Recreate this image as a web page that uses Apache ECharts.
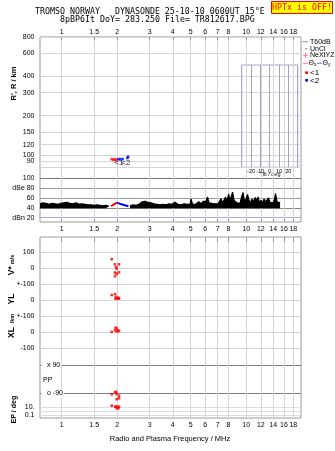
<!DOCTYPE html>
<html>
<head>
<meta charset="utf-8">
<script src="https://cdn.jsdelivr.net/npm/echarts@6/dist/echarts.min.js"></script>
<style>
html, body { margin: 0; padding: 0; background: #fff; }
#chart { width: 335px; height: 451px; }
</style>
</head>
<body>
<div id="chart"></div>
<script>
// ---- axis ticks ----
const freqTicks = [1, 1.5, 2, 3, 4, 5, 6, 7, 8, 10, 12, 14, 16, 18];
const rangeTicks = [80, 90, 100, 120, 150, 200, 300, 400, 600, 800];
const dbTicks = [20, 40, 60, 80, 100];
const tiltTicks = [-20, -10, 0, 10, 20];
const driftTicks = [-100, 0, 100];
const ppTicks = [-90, 90];
const epTicks = [0.1, 1, 10];

// ---- echo traces: [frequency MHz, value] ----
const echo1Range = [[1.866, 93], [1.91, 92], [1.95, 93], [1.98, 91]];
const echo2Range = [[2.03, 93], [2.08, 93], [2.14, 93], [2.27, 95], [2.29, 97]];
const echo1Amp = [[1.85, 43], [1.92, 47], [1.99, 50.5]];
const echo2Amp = [[1.99, 50.5], [2.03, 50.5], [2.11, 47], [2.20, 45], [2.30, 43]];
const echoTags = [[2.04, 86.8, '<1'], [2.23, 86.8, '<2']];

// ---- receiver noise level ----
const noiseFreq = [
  0.763, 0.792, 0.822, 0.853, 0.886, 0.920, 0.955, 0.991, 1.029, 1.068, 1.109, 1.151,
  1.195, 1.241, 1.288, 1.338, 1.388, 1.441, 1.497, 1.554, 1.613, 1.674, 1.739, 1.804,
  2.0,
  2.346, 2.435, 2.527, 2.624, 2.724, 2.828, 2.936, 3.048, 3.164, 3.285, 3.410, 3.540,
  3.675, 3.815, 3.961, 4.112, 4.269, 4.431, 4.600, 4.776,
  4.960, 5.022, 5.117, 5.214, 5.311, 5.411, 5.512, 5.617, 5.723, 5.832, 5.942, 6.055,
  6.169, 6.286, 6.405, 6.525, 6.650, 6.775, 6.903, 7.034, 7.167, 7.303, 7.441, 7.582,
  7.725, 7.872, 8.020, 8.172, 8.327, 8.430, 8.589, 8.750, 8.917, 9.085, 9.256, 9.430,
  9.609, 9.790, 9.975, 10.16, 10.36, 10.55, 10.75, 10.96, 11.16, 11.37, 11.59, 11.81,
  12.03, 12.26, 12.49, 12.72, 12.96, 13.21, 13.46, 13.71, 13.97, 14.23, 14.41, 14.69,
  14.96, 15.25
];
const noiseDb = [
  48, 50, 49, 47, 49, 48, 47, 49, 50, 51, 49, 48,
  50, 47, 48, 47, 46, 46, 45, 46, 45, 44, 45, 43,
  null,
  44, 46, 45, 47, 52, 53, 51, 50, 48, 47, 46, 47,
  46, 48, 47, 51, 47, 46, 48, 47,
  47, 58, 47, 50, 47, 49, 52, 55, 48, 53, 50, 53,
  62, 50, 54, 49, 50, 48, 50, 48, 52, 58, 50, 56,
  62, 52, 68, 55, 65, 72, 55, 58, 50, 53, 49, 62,
  71, 52, 58, 67, 55, 50, 58, 52, 61, 55, 62, 50,
  55, 50, 58, 52, 54, 60, 51, 53, 50, 58, 69, 52,
  55, 50
];

// ---- drift velocity, echo location, polarization, error ----
const vStar = [[1.866, 57], [1.945, 25], [2.045, 25], [1.970, 8], [1.986, -2],
               [1.945, -27], [2.045, -25], [1.986, -34], [1.945, -49]];
const yLoc = [[1.866, 33], [1.945, 38], [1.970, 21], [1.955, 11], [1.990, 11],
              [2.020, 11], [2.045, 11], [2.030, 16]];
const xLoc = [[1.866, 2], [1.960, 29], [1.985, 23], [1.945, 12], [2.020, 12],
              [2.045, 8], [1.990, 5]];
const polar = [[1.866, -98], [1.945, -85], [1.970, -82], [1.986, -96],
               [2.045, -107], [2.045, -124], [1.986, -130]];
const epErr = [[1.866, 21], [1.945, 12], [1.970, 12], [2.000, 12], [2.045, 12],
               [1.986, 4.7], [2.030, 4.7]];

const SANS = 'Liberation Sans, Arial, sans-serif';
const MONO = 'DejaVu Sans Mono, monospace';
const F_MIN = 0.763, F_MAX = 19.8;
const LEFT = 40, WIDTH = 261;
const GRIDC = '#d4d4dc';

const fmtNum = v => String(+(+v).toPrecision(3));

function hiddenFreqAxis(gridIndex) {
  return { type: 'log', gridIndex, min: F_MIN, max: F_MAX, show: false };
}
function labelStyle(extra) {
  return Object.assign({ fontFamily: SANS, fontSize: 7, color: '#000' }, extra);
}

const grids = [
  { left: LEFT, top: 37, width: WIDTH, height: 185, show: true, borderColor: '#999', borderWidth: 1 }, // 0 upper frame
  { left: LEFT, top: 37, width: WIDTH, height: 133 },        // 1 range
  { left: LEFT, top: 178.3, width: WIDTH, height: 43.7 },    // 2 amplitude
  { left: 241.7, top: 65, width: 56, height: 102.3 },        // 3 tilt inset
  { left: LEFT, top: 237, width: WIDTH, height: 181, show: true, borderColor: '#999', borderWidth: 1 }, // 4 lower frame
  { left: LEFT, top: 252.3, width: WIDTH, height: 32 },      // 5 V*
  { left: LEFT, top: 284.3, width: WIDTH, height: 32 },      // 6 YL
  { left: LEFT, top: 316.3, width: WIDTH, height: 32 },      // 7 XL
  { left: LEFT, top: 365, width: WIDTH, height: 35 },        // 8 PP
  { left: LEFT, top: 400, width: WIDTH, height: 18 }         // 9 EP
];

const xAxes = [
  { type: 'log', gridIndex: 0, min: F_MIN, max: F_MAX, position: 'bottom',
    axisLine: { show: false },
    axisTick: { show: true, inside: true, length: 3, customValues: freqTicks, lineStyle: { color: '#999' } },
    axisLabel: labelStyle({ customValues: freqTicks, margin: 4, formatter: fmtNum }),
    splitLine: { show: true, lineStyle: { color: GRIDC, width: 1 } } },
  { type: 'log', gridIndex: 0, min: F_MIN, max: F_MAX, position: 'top',
    axisLine: { show: false },
    axisTick: { show: true, inside: true, length: 3, customValues: freqTicks, lineStyle: { color: '#999' } },
    axisLabel: labelStyle({ customValues: freqTicks, margin: 1, formatter: fmtNum }),
    splitLine: { show: false } },
  hiddenFreqAxis(1),
  hiddenFreqAxis(2),
  { type: 'value', gridIndex: 3, min: -30, max: 30, interval: 10,
    axisLine: { show: false }, axisTick: { show: false },
    axisLabel: labelStyle({ customValues: tiltTicks, fontSize: 5.5, margin: 1.5 }),
    splitLine: { show: true, lineStyle: { color: '#a4a4c0', width: 1 } } },
  { type: 'log', gridIndex: 4, min: F_MIN, max: F_MAX, position: 'bottom',
    axisLine: { show: false }, axisTick: { show: false, customValues: freqTicks },
    axisLabel: labelStyle({ customValues: freqTicks, margin: 4, formatter: fmtNum }),
    splitLine: { show: true, lineStyle: { color: GRIDC, width: 1 } } },
  { type: 'log', gridIndex: 4, min: F_MIN, max: F_MAX, position: 'top',
    axisLine: { show: false },
    axisTick: { show: true, inside: true, length: 5, customValues: freqTicks, lineStyle: { color: '#999' } },
    axisLabel: { show: false }, splitLine: { show: false } },
  hiddenFreqAxis(5), hiddenFreqAxis(6), hiddenFreqAxis(7), hiddenFreqAxis(8), hiddenFreqAxis(9)
];

const yAxes = [
  { type: 'value', gridIndex: 0, min: 0, max: 1, show: false },
  { type: 'log', gridIndex: 1, min: 76.8, max: 800,
    axisLine: { show: false }, axisTick: { show: false, customValues: rangeTicks },
    axisLabel: labelStyle({ customValues: rangeTicks, margin: 5.5, formatter: fmtNum }),
    splitLine: { show: true, lineStyle: { color: GRIDC } } },
  { type: 'value', gridIndex: 2, min: 11, max: 100,
    axisLine: { show: false }, axisTick: { show: false, customValues: dbTicks },
    axisLabel: labelStyle({ customValues: dbTicks, margin: 5.5,
      formatter: v => v === 80 ? 'dBe 80' : v === 20 ? 'dBn 20' : String(v) }),
    splitLine: { show: true, lineStyle: { color: ['#a8a8e0', '#888', '#999', '#999', '#777'] } } },
  { type: 'value', gridIndex: 3, min: 0, max: 1, show: false },
  { type: 'value', gridIndex: 4, min: 0, max: 1, show: false },
  { type: 'value', gridIndex: 5, min: -100, max: 100,
    axisLine: { show: false }, axisTick: { show: false, customValues: driftTicks },
    axisLabel: labelStyle({ customValues: [0, 100], margin: 5.5 }),
    splitLine: { show: true, lineStyle: { color: GRIDC } } },
  { type: 'value', gridIndex: 6, min: -100, max: 100,
    axisLine: { show: false }, axisTick: { show: false, customValues: driftTicks },
    axisLabel: labelStyle({ customValues: [0, 100], margin: 5.5, formatter: v => v === 100 ? '+-100' : String(v) }),
    splitLine: { show: true, lineStyle: { color: GRIDC } } },
  { type: 'value', gridIndex: 7, min: -100, max: 100,
    axisLine: { show: false }, axisTick: { show: false, customValues: driftTicks },
    axisLabel: labelStyle({ customValues: driftTicks, margin: 5.5, formatter: v => v === 100 ? '+-100' : String(v) }),
    splitLine: { show: true, lineStyle: { color: GRIDC } } },
  { type: 'value', gridIndex: 8, min: -135, max: 90,
    axisLine: { show: false }, axisTick: { show: false, customValues: ppTicks },
    axisLabel: labelStyle({ customValues: ppTicks, inside: true, margin: 1.5,
      backgroundColor: '#fff', padding: [1, 1, 1, 5.5],
      formatter: v => v === 90 ? 'x 90' : 'o -90' }),
    splitLine: { show: true, lineStyle: { color: '#808080' } } },
  { type: 'log', gridIndex: 9, min: 0.01778, max: 562,
    axisLine: { show: false }, axisTick: { show: false, customValues: epTicks },
    axisLabel: labelStyle({ customValues: [0.1, 10], margin: 5.5, formatter: v => (+v >= 5 ? '10.' : '0.1') }),
    splitLine: { show: true, lineStyle: { color: '#dcdce4' } } }
];

function dots(name, data, xi, yi, color) {
  return { name, type: 'scatter', xAxisIndex: xi, yAxisIndex: yi, data,
    symbol: 'rect', symbolSize: 2.6, itemStyle: { color }, silent: true, z: 5 };
}

const series = [
  { name: 'noise', type: 'line', xAxisIndex: 3, yAxisIndex: 2,
    data: noiseFreq.map((f, i) => [f, noiseDb[i] == null ? '-' : noiseDb[i]]),
    showSymbol: false, connectNulls: false,
    lineStyle: { color: '#000', width: 1.2 },
    areaStyle: { color: '#000', opacity: 1, origin: 39 }, z: 3 },
  { name: 'amp1', type: 'line', xAxisIndex: 3, yAxisIndex: 2, data: echo1Amp,
    showSymbol: false, lineStyle: { color: '#ff0000', width: 2 }, z: 4 },
  { name: 'amp2', type: 'line', xAxisIndex: 3, yAxisIndex: 2, data: echo2Amp,
    showSymbol: false, lineStyle: { color: '#0000ff', width: 2 }, z: 4 },
  dots('range1', echo1Range, 2, 1, '#ff0000'),
  dots('range2', echo2Range, 2, 1, '#0000ff'),
  { name: 'tags', type: 'scatter', xAxisIndex: 2, yAxisIndex: 1, data: echoTags,
    symbolSize: 0, silent: true, z: 6,
    label: { show: true, position: 'inside', formatter: p => p.data[2],
      fontFamily: SANS, fontSize: 8, color: '#000' } },
  dots('vstar', vStar, 7, 5, '#ff0000'),
  dots('yl', yLoc, 8, 6, '#ff0000'),
  dots('xl', xLoc, 9, 7, '#ff0000'),
  dots('pp', polar, 10, 8, '#ff0000'),
  dots('ep', epErr, 11, 9, '#ff0000')
];

function txt(x, y, text, extra, rotation) {
  return { type: 'text', x, y, rotation: rotation || 0, silent: true,
    style: Object.assign({ text, fontFamily: SANS, fontSize: 7, fill: '#000',
      align: 'left', verticalAlign: 'middle' }, extra) };
}
function seg(x1, y1, x2, y2, color) {
  return { type: 'line', silent: true, shape: { x1, y1, x2, y2 }, style: { stroke: color, lineWidth: 1 } };
}

const graphics = [
  txt(35, 12, 'TROMSO NORWAY   DYNASONDE 25-10-10 0600UT 15°E', { fontFamily: MONO, fontSize: 8.3 }),
  txt(60, 20, '8pBP6It DoY= 283.250 File= TR812617.BPG', { fontFamily: MONO, fontSize: 8.3 }),
  { type: 'rect', silent: true, shape: { x: 271.5, y: 1.5, width: 61, height: 12 },
    style: { fill: '#ffff00', stroke: '#ff0000', lineWidth: 1 } },
  txt(302, 8, 'HPTx is OFF!', { fontFamily: MONO, fontSize: 8.3, fill: '#ff0000', align: 'center' }),

  // legend
  seg(302, 41.7, 308, 41.7, '#999'), txt(310, 41.7, 'T60dB'),
  { type: 'rect', silent: true, shape: { x: 305.5, y: 48.2, width: 1, height: 1 }, style: { fill: '#000' } },
  txt(310, 48.7, 'UnCl'),
  seg(303, 55.3, 308, 55.3, '#ff6f9f'), seg(305.5, 52.8, 305.5, 57.8, '#ff6f9f'),
  txt(310, 55.3, 'NeXtYZ'),
  seg(303, 63.3, 308, 63.3, '#ff6f9f'),
  txt(308.5, 63.3, '{t|Θ}{s|x}', { rich: { t: { fontFamily: SANS, fontSize: 7 }, s: { fontFamily: SANS, fontSize: 5, verticalAlign: 'bottom' } } }),
  seg(317, 63.3, 322, 63.3, '#6f6fff'),
  txt(322.5, 63.3, '{t|Θ}{s|y}', { rich: { t: { fontFamily: SANS, fontSize: 7 }, s: { fontFamily: SANS, fontSize: 5, verticalAlign: 'bottom' } } }),
  { type: 'rect', silent: true, shape: { x: 305.3, y: 71.4, width: 2.6, height: 2.6 }, style: { fill: '#ff0000' } },
  txt(310, 72.7, '<1', { fontSize: 8 }),
  { type: 'rect', silent: true, shape: { x: 305.3, y: 79, width: 2.6, height: 2.6 }, style: { fill: '#0000ff' } },
  txt(310, 80.3, '<2', { fontSize: 8 }),

  // tilt inset title
  txt(270, 174.8, 'Tilt / deg', { fontSize: 5.5, align: 'center' }),

  // axis titles
  txt(13.5, 83.5, "R', R / km", { fontWeight: 'bold', fontSize: 7.5, align: 'center' }, Math.PI / 2),
  txt(12, 265, '{a|V*} {b|m/s}', { align: 'center',
    rich: { a: { fontFamily: SANS, fontWeight: 'bold', fontSize: 8.5 }, b: { fontFamily: SANS, fontWeight: 'bold', fontSize: 5.5 } } }, Math.PI / 2),
  txt(12, 299, 'YL', { fontWeight: 'bold', fontSize: 8.5, align: 'center' }, Math.PI / 2),
  txt(12.5, 318.5, '/km', { fontWeight: 'bold', fontSize: 5.5, align: 'center' }, Math.PI / 2),
  txt(12, 332.5, 'XL', { fontWeight: 'bold', fontSize: 8.5, align: 'center' }, Math.PI / 2),
  txt(14, 409.6, 'EP / deg', { fontWeight: 'bold', fontSize: 7, align: 'center' }, Math.PI / 2),
  txt(43, 379.7, 'PP', { fontSize: 7 }),
  txt(170, 439, 'Radio and Plasma Frequency / MHz', { fontSize: 7.5, align: 'center' }),

  // tilt inset frame
  { type: 'rect', silent: true, shape: { x: 241.7, y: 65, width: 56, height: 102.3 },
    style: { fill: 'none', stroke: '#a4a4c0', lineWidth: 1 } }
];

const chart = echarts.init(document.getElementById('chart'), null, { renderer: 'canvas' });
chart.setOption({
  animation: false,
  backgroundColor: '#fff',
  grid: grids,
  xAxis: xAxes,
  yAxis: yAxes,
  series,
  graphic: graphics
});
</script>
</body>
</html>
